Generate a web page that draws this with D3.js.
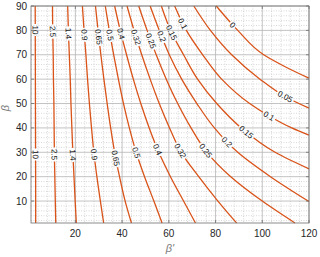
<!DOCTYPE html>
<html>
<head>
<meta charset="utf-8">
<script src="https://cdn.jsdelivr.net/npm/d3@7"></script>
<style>
  body { margin: 0; background: #fff; }
  svg text { font-family: "Liberation Sans", Arial, sans-serif; }
</style>
</head>
<body>
<svg id="chart" width="320" height="257"></svg>
<script>
// ---- axes ----
const xDomain = [1, 120];
const yDomain = [1, 90];
const xTicks = [20, 40, 60, 80, 100, 120];
const yTicks = [10, 20, 30, 40, 50, 60, 70, 80, 90];

// ---- contour levels and lines as [beta', beta] ----
const levels = [10, 2.5, 1.4, 0.9, 0.65, 0.5, 0.4, 0.32, 0.25, 0.2, 0.15, 0.1, 0.05, 0];

const c10   = [[2.8,90],[2.85,70],[2.9,50],[2.95,30],[3.0,10],[3.0,1]];
const c2_5  = [[10.2,90],[10.3,80],[10.5,70],[10.6,60],[10.8,50],[10.9,40],[11.0,30],[11.2,20],[11.4,10],[11.6,1]];
const c1_4  = [[16.7,90],[17.0,80],[17.4,70],[17.8,60],[18.1,50],[18.5,40],[18.9,30],[19.4,20],[19.9,10],[20.4,1]];
const c0_9  = [[23.0,90],[23.7,80],[24.5,70],[25.2,60],[26.0,50],[26.9,40],[27.9,30],[29.2,20],[30.7,10],[32.1,1]];
const c0_65 = [[28.6,90],[29.7,80],[30.9,70],[32.2,60],[33.6,50],[35.1,40],[36.8,30],[38.9,20],[41.3,10],[44.0,1]];
const c0_5  = [[32.8,90],[34.5,80],[36.4,70],[38.4,60],[40.6,50],[43.1,40],[46.0,30],[49.6,20],[53.6,10],[57.1,1]];
const c0_4  = [[36.8,90],[39.2,80],[41.9,70],[44.8,60],[48.0,50],[51.6,40],[55.7,30],[60.7,20],[66.3,10],[71.4,1]];
const c0_32 = [[42.1,90],[45.1,80],[48.4,70],[52.0,60],[55.9,50],[60.3,40],[65.3,30],[72.8,20],[81.0,10],[89.0,1]];
const c0_25 = [[47.1,90],[50.7,80],[54.6,70],[58.9,60],[63.8,50],[69.5,40],[76.3,30],[86.5,20],[100,10],[114,1]];
const c0_2  = [[52.0,90],[55.9,80],[60.2,70],[65.5,60],[72.0,50],[79.5,40],[89.5,30],[103.5,20],[120,9.8]];
const c0_15 = [[56.8,90],[61.2,79],[66.3,70],[72.3,60],[80.5,50],[91.0,40],[105.5,30],[120,23.2]];
const c0_1  = [[62.5,90],[67.5,80],[74.5,70],[82.6,60],[94.6,50],[102.2,45.3],[112.6,40],[120,37]];
const c0_05 = [[70.7,90],[77.8,80],[86.9,70],[99.0,60],[109.9,52.8],[120,48.1]];
const c0    = [[80.3,90],[89.5,80],[100.6,70],[110,65],[120,60.4]];

const lines = [c10, c2_5, c1_4, c0_9, c0_65, c0_5, c0_4, c0_32, c0_25, c0_2, c0_15, c0_1, c0_05, c0];

// inline labels: [level, beta', beta]
const labelsUpper = [[10,2.9,80.2],[2.5,10.3,79.5],[1.4,17,78.8],[0.9,23.6,78.1],[0.65,29.8,77.4],[0.5,35,78.1],
                     [0.4,40,78.8],[0.32,45.5,77],[0.25,52,75.5],[0.2,56.4,77.4],[0.15,61.4,79.3],[0.1,66.6,83],[0,87.1,82.2]];
const labelsLower = [[10,2.9,29],[2.5,11,29],[1.4,18.9,29],[0.9,27.8,29],[0.65,37,27.5],[0.5,46.2,29.8],[0.4,55,31],
                     [0.32,65,30.6],[0.25,76.2,31],[0.2,85,34.4],[0.15,93.5,38.8],[0.1,103,45.3],[0.05,109.9,52.8]];

const svg = d3.select("#chart");
const margin = { top: 6, right: 11, bottom: 34, left: 31 };
const width = +svg.attr("width");
const height = +svg.attr("height");
const innerWidth = width - margin.left - margin.right;
const innerHeight = height - margin.top - margin.bottom;

const x = d3.scaleLinear().domain(xDomain).range([0, innerWidth]);
const y = d3.scaleLinear().domain(yDomain).range([innerHeight, 0]);

const g = svg.append("g").attr("transform", `translate(${margin.left},${margin.top})`);

// minor grid (dotted)
const xMinor = d3.range(4, 120, 4).filter(v => !xTicks.includes(v));
const yMinor = d3.range(2, 90, 2).filter(v => v % 10 !== 0);
const grid = g.append("g").attr("class", "grid");
grid.selectAll(".xm").data(xMinor).join("line")
  .attr("x1", d => x(d)).attr("x2", d => x(d)).attr("y1", 0).attr("y2", innerHeight)
  .attr("stroke", "#bdbdbd").attr("stroke-width", 0.6).attr("stroke-dasharray", "1,1.5");
grid.selectAll(".ym").data(yMinor).join("line")
  .attr("y1", d => y(d)).attr("y2", d => y(d)).attr("x1", 0).attr("x2", innerWidth)
  .attr("stroke", "#bdbdbd").attr("stroke-width", 0.6).attr("stroke-dasharray", "1,1.5");

// major grid
grid.selectAll(".xg").data(xTicks).join("line")
  .attr("x1", d => x(d)).attr("x2", d => x(d)).attr("y1", 0).attr("y2", innerHeight)
  .attr("stroke", "#b4b4b4").attr("stroke-width", 0.8);
grid.selectAll(".yg").data(yTicks).join("line")
  .attr("y1", d => y(d)).attr("y2", d => y(d)).attr("x1", 0).attr("x2", innerWidth)
  .attr("stroke", "#b4b4b4").attr("stroke-width", 0.8);

// contours
const line = d3.line().x(d => x(d[0])).y(d => y(d[1])).curve(d3.curveMonotoneY);
const defs = svg.append("defs");
const mask = defs.append("mask").attr("id", "gaps").attr("maskUnits", "userSpaceOnUse")
  .attr("x", -20).attr("y", -20).attr("width", width + 40).attr("height", height + 40);
mask.append("rect").attr("x", -20).attr("y", -20).attr("width", width + 40).attr("height", height + 40).attr("fill", "#fff");

const cg = g.append("g").attr("mask", "url(#gaps)");
const nodes = {};
levels.forEach((lv, i) => {
  const p = cg.append("path").datum(lines[i])
    .attr("fill", "none").attr("stroke", "#d95319").attr("stroke-width", 1.3)
    .attr("d", line);
  nodes[lv] = p.node();
});

function placeOnPath(node, tx, ty) {
  const L = node.getTotalLength();
  let best = 0, bestD = Infinity;
  for (let s = 0; s <= L; s += 0.5) {
    const p = node.getPointAtLength(s);
    const d = (p.x - tx) ** 2 + (p.y - ty) ** 2;
    if (d < bestD) { bestD = d; best = s; }
  }
  const p = node.getPointAtLength(best);
  const a = node.getPointAtLength(Math.max(0, best - 3));
  const b = node.getPointAtLength(Math.min(L, best + 3));
  let ang = Math.atan2(b.y - a.y, b.x - a.x) * 180 / Math.PI;
  if (ang > 90) ang -= 180;
  if (ang < -90) ang += 180;
  return { x: p.x, y: p.y, ang };
}

const lg = g.append("g").attr("class", "clabels");
labelsUpper.concat(labelsLower).forEach(([lv, lx, ly]) => {
  const pos = placeOnPath(nodes[lv], x(lx), y(ly));
  const tr = `translate(${pos.x},${pos.y}) rotate(${pos.ang})`;
  const t = lg.append("text").attr("transform", tr)
    .attr("text-anchor", "middle").attr("dy", "0.35em")
    .attr("font-size", 8).attr("fill", "#111")
    .text(String(lv));
  const w = t.node().getComputedTextLength();
  mask.append("rect").attr("transform", tr)
    .attr("x", -w / 2 - 1.5).attr("y", -4.5).attr("width", w + 3).attr("height", 9)
    .attr("fill", "#000");
});

// box and inward ticks
g.append("rect").attr("width", innerWidth).attr("height", innerHeight)
  .attr("fill", "none").attr("stroke", "#6f6f6f").attr("stroke-width", 0.8);
const tk = g.append("g").attr("stroke", "#6f6f6f").attr("stroke-width", 0.8);
xTicks.forEach(v => {
  tk.append("line").attr("x1", x(v)).attr("x2", x(v)).attr("y1", innerHeight).attr("y2", innerHeight - 3);
  tk.append("line").attr("x1", x(v)).attr("x2", x(v)).attr("y1", 0).attr("y2", 3);
});
yTicks.forEach(v => {
  tk.append("line").attr("y1", y(v)).attr("y2", y(v)).attr("x1", 0).attr("x2", 3);
  tk.append("line").attr("y1", y(v)).attr("y2", y(v)).attr("x1", innerWidth).attr("x2", innerWidth - 3);
});

// tick labels
g.selectAll(".xl").data(xTicks).join("text")
  .attr("x", d => x(d)).attr("y", innerHeight + 14)
  .attr("text-anchor", "middle").attr("font-size", 10).attr("fill", "#262626")
  .text(d => d);
g.selectAll(".yl").data(yTicks).join("text")
  .attr("x", -4).attr("y", d => y(d)).attr("dy", "0.35em")
  .attr("text-anchor", "end").attr("font-size", 10).attr("fill", "#262626")
  .text(d => d);

// axis titles
svg.append("text").attr("x", 170).attr("y", 252)
  .attr("text-anchor", "middle").attr("font-size", 11).attr("font-style", "italic").attr("fill", "#7a7a7a")
  .text("β'");
svg.append("text").attr("transform", "translate(9,108) rotate(-90)")
  .attr("text-anchor", "middle").attr("font-size", 11).attr("font-style", "italic").attr("fill", "#7a7a7a")
  .text("β");
</script>
</body>
</html>
